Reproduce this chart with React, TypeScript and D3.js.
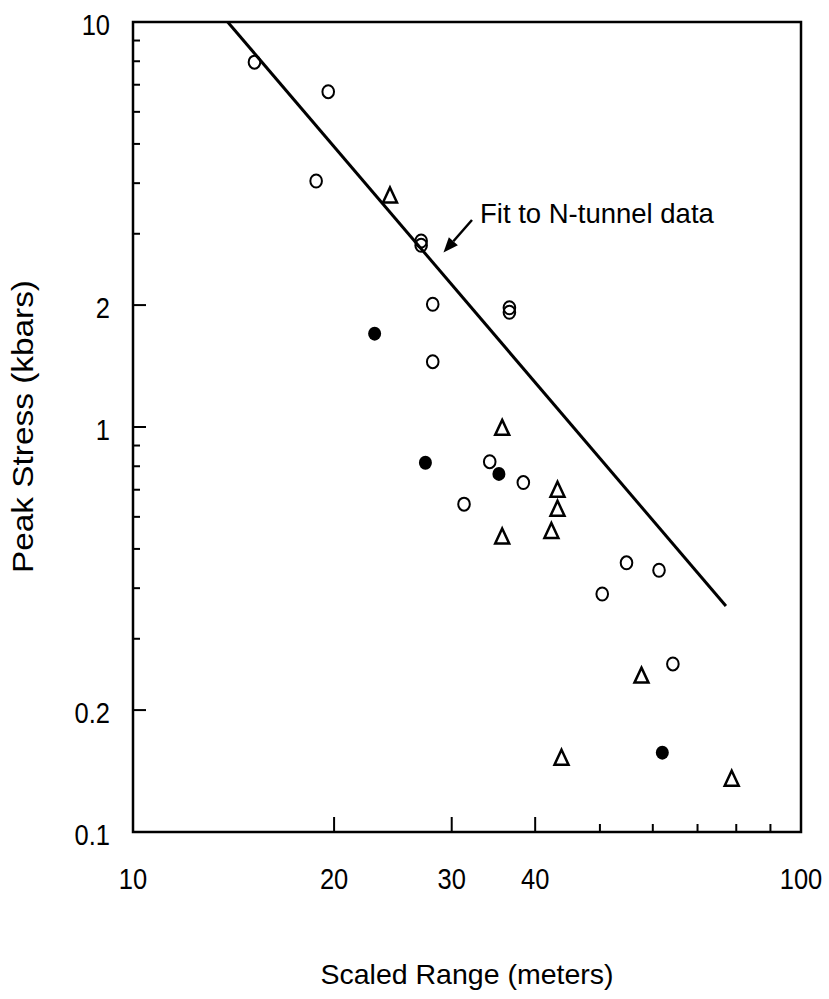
import React from "react";
import * as d3 from "d3";

const xTickLabels = ["10", "20", "30", "40", "100"];
const xTickValues = [10, 20, 30, 40, 100];
const xMinorValues = [50, 60, 70, 80, 90];
const yTickLabels = ["0.1", "0.2", "1", "2", "10"];
const yTickValues = [0.1, 0.2, 1, 2, 10];
const yMinorValues = [0.3, 0.4, 0.5, 0.6, 0.7, 0.8, 0.9, 3, 4, 5, 6, 7, 8, 9];

const openX = [15.2, 19.6, 18.8, 27.0, 27.0, 28.1, 28.1, 36.6, 36.6, 34.2, 38.4, 31.3, 54.8, 61.3, 50.4, 64.3];
const openY = [7.96, 6.73, 4.05, 2.88, 2.81, 2.01, 1.45, 1.97, 1.92, 0.821, 0.729, 0.645, 0.462, 0.443, 0.387, 0.26];
const filledX = [23.0, 27.4, 35.3, 62.0];
const filledY = [1.7, 0.816, 0.766, 0.157];
const triX = [24.25, 35.7, 43.2, 43.2, 42.3, 35.7, 57.7, 43.8, 78.75];
const triY = [3.74, 0.998, 0.702, 0.63, 0.555, 0.538, 0.244, 0.153, 0.1357];

const fitX = [13.86, 77.2];
const fitY = [10, 0.3614];

const annotationText = "Fit to N-tunnel data";
const annotationAt = [33.07, 3.19];
const arrowFrom = [32.17, 3.245];
const arrowTo = [29.16, 2.697];

const xTitle = "Scaled Range (meters)";
const yTitle = "Peak Stress (kbars)";

export default function App() {
  const left = 133, right = 801, top = 22, bottom = 832;
  const x = d3.scaleLog().domain([10, 100]).range([left, right]);
  const y = d3.scaleLog().domain([0.1, 10]).range([bottom, top]);
  const font = "'Liberation Sans', Arial, Helvetica, sans-serif";

  const line = d3.line<number>().x((_, i) => x(fitX[i])).y((_, i) => y(fitY[i]));

  const ax = x(arrowFrom[0]), ay = y(arrowFrom[1]);
  const bx = x(arrowTo[0]), by = y(arrowTo[1]);
  const ang = Math.atan2(by - ay, bx - ax);
  const hl = 15, hw = 6;
  const baseX = bx - hl * Math.cos(ang), baseY = by - hl * Math.sin(ang);
  const px = -Math.sin(ang) * hw, py = Math.cos(ang) * hw;
  const head = `M${bx},${by}L${baseX + px},${baseY + py}L${baseX - px},${baseY - py}Z`;

  const tw = 14, th = 15;
  const triPath = `M0,${-th / 2}L${tw / 2},${th / 2}L${-tw / 2},${th / 2}Z`;

  return (
    <svg width={829} height={999} style={{ position: "absolute", left: 0, top: 0, background: "#fff" }}>
      <rect x={0} y={0} width={829} height={999} fill="#fff" />
      {/* frame */}
      <rect x={left} y={top} width={right - left} height={bottom - top} fill="none" stroke="#000" strokeWidth={2.5} />
      {/* x ticks */}
      {xTickValues.slice(1, -1).map((v) => (
        <line key={"xt" + v} x1={x(v)} x2={x(v)} y1={bottom} y2={bottom - 15} stroke="#000" strokeWidth={2} />
      ))}
      {xMinorValues.map((v) => (
        <line key={"xm" + v} x1={x(v)} x2={x(v)} y1={bottom} y2={bottom - 8} stroke="#000" strokeWidth={2} />
      ))}
      {xTickValues.map((v, i) => (
        <text key={"xl" + v} transform={`translate(${x(v)},889) scale(0.85,1)`} textAnchor="middle" fontFamily={font} fontSize={30} fill="#000">
          {xTickLabels[i]}
        </text>
      ))}
      {/* y ticks */}
      {yTickValues.slice(1, -1).map((v) => (
        <line key={"yt" + v} x1={left} x2={left + 13} y1={y(v)} y2={y(v)} stroke="#000" strokeWidth={2} />
      ))}
      {yMinorValues.map((v) => (
        <line key={"ym" + v} x1={left} x2={left + 7} y1={y(v)} y2={y(v)} stroke="#000" strokeWidth={2} />
      ))}
      {yTickValues.map((v, i) => (
        <text key={"yl" + v} transform={`translate(110,${y(v) + 13}) scale(0.85,1)`} textAnchor="end" fontFamily={font} fontSize={30} fill="#000">
          {yTickLabels[i]}
        </text>
      ))}
      {/* titles */}
      <text x={(left + right) / 2} y={984} textAnchor="middle" fontFamily={font} fontSize={28.5} fill="#000">
        {xTitle}
      </text>
      <text transform={`translate(33,${(280 + 573) / 2}) rotate(-90)`} textAnchor="middle" fontFamily={font} fontSize={30} fill="#000" textLength={293} lengthAdjust="spacingAndGlyphs">
        {yTitle}
      </text>
      {/* fit line */}
      <path d={line([0, 1]) || ""} fill="none" stroke="#000" strokeWidth={3} />
      {/* annotation */}
      <text x={x(annotationAt[0])} y={y(annotationAt[1])} fontFamily={font} fontSize={27.5} fill="#000">
        {annotationText}
      </text>
      <line x1={ax} y1={ay} x2={baseX} y2={baseY} stroke="#000" strokeWidth={2.5} />
      <path d={head} fill="#000" />
      {/* markers */}
      {openX.map((v, i) => (
        <ellipse key={"o" + i} cx={x(v)} cy={y(openY[i])} rx={5.8} ry={6.5} fill="none" stroke="#000" strokeWidth={2} />
      ))}
      {filledX.map((v, i) => (
        <ellipse key={"f" + i} cx={x(v)} cy={y(filledY[i])} rx={6.5} ry={7} fill="#000" />
      ))}
      {triX.map((v, i) => (
        <path key={"t" + i} d={triPath} transform={`translate(${x(v)},${y(triY[i])})`} fill="none" stroke="#000" strokeWidth={2.5} strokeLinejoin="miter" />
      ))}
    </svg>
  );
}
